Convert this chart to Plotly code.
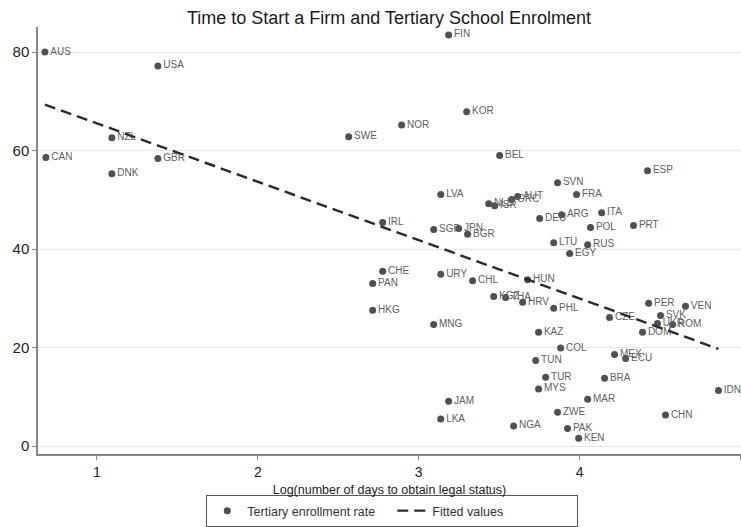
import numpy as np
import plotly.graph_objects as go

# Country codes, log(days to obtain legal status) and tertiary enrolment rate
countries = [
    "AUS", "USA", "NZL", "CAN", "GBR", "DNK", "FIN", "KOR", "NOR", "SWE",
    "BEL", "ESP", "SVN", "FRA", "LVA", "ITA", "ARG", "DEU", "PRT", "POL",
    "IRL", "SGP", "JPN", "BGR", "LTU", "RUS", "EGY", "NLD", "ISR", "AUT",
    "GRC", "CHE", "PAN", "URY", "CHL", "HUN", "HKG", "MNG", "KGZ", "THA",
    "HRV", "PHL", "PER", "VEN", "SVK", "CZE", "UKR", "ROM", "DOM", "KAZ",
    "COL", "TUN", "MEX", "ECU", "TUR", "BRA", "MYS", "IDN", "MAR", "JAM",
    "ZWE", "CHN", "LKA", "NGA", "PAK", "KEN",
]
log_days = [
    0.677, 1.379, 1.093, 0.683, 1.379, 1.093, 3.186, 3.298, 2.894, 2.565,
    3.503, 4.422, 3.863, 3.981, 3.137, 4.137, 3.888, 3.752, 4.335, 4.068,
    2.776, 3.093, 3.248, 3.304, 3.839, 4.050, 3.938, 3.435, 3.472, 3.615,
    3.578, 2.776, 2.714, 3.137, 3.335, 3.677, 2.714, 3.093, 3.466, 3.540,
    3.646, 3.839, 4.429, 4.658, 4.503, 4.186, 4.484, 4.578, 4.391, 3.745,
    3.882, 3.727, 4.217, 4.286, 3.789, 4.155, 3.745, 4.863, 4.050, 3.186,
    3.863, 4.534, 3.137, 3.590, 3.925, 3.994,
]
enrolment = [
    80.0, 77.2, 62.6, 58.6, 58.4, 55.3, 83.5, 67.9, 65.2, 62.8,
    59.0, 55.9, 53.5, 51.1, 51.1, 47.4, 47.0, 46.2, 44.8, 44.4,
    45.4, 44.0, 44.2, 43.0, 41.3, 40.9, 39.1, 49.2, 48.8, 50.7,
    50.1, 35.5, 33.0, 34.9, 33.6, 33.8, 27.6, 24.7, 30.4, 30.2,
    29.2, 28.0, 29.0, 28.4, 26.5, 26.1, 24.9, 24.7, 23.1, 23.1,
    19.9, 17.4, 18.6, 17.8, 14.0, 13.8, 11.6, 11.3, 9.5, 9.1,
    6.9, 6.3, 5.5, 4.1, 3.6, 1.6,
]

y_ticks = [0, 20, 40, 60, 80]
x_ticks = [1, 2, 3, 4, 5]

# Linear fit of enrolment on log days
x = np.array(log_days)
y = np.array(enrolment)
slope, intercept = np.polyfit(x, y, 1)
fit_x = np.array([x.min(), x.max()])
fit_y = intercept + slope * fit_x

FONT = "Liberation Sans, Arial, Helvetica, sans-serif"

fig = go.Figure()
fig.add_trace(go.Scatter(
    x=log_days, y=enrolment, text=countries,
    mode="markers+text", textposition="middle right",
    textfont=dict(family=FONT, size=10, color="#606060"),
    marker=dict(size=7, color="#505050"),
    name="Tertiary enrollment rate",
))
fig.add_trace(go.Scatter(
    x=fit_x, y=fit_y, mode="lines",
    line=dict(color="#2a2a2a", width=2.4, dash="11px,6px"),
    name="Fitted values",
))

fig.update_layout(
    width=741, height=527,
    margin=dict(l=38, r=0, t=27, b=72),
    paper_bgcolor="white", plot_bgcolor="white",
    font=dict(family=FONT, color="#222"),
    title=dict(
        text="Time to Start a Firm and Tertiary School Enrolment",
        x=0.525, xanchor="center", y=0.966, yanchor="middle",
        font=dict(family=FONT, size=18, color="#1a1a1a"),
    ),
    showlegend=True,
    legend=dict(
        orientation="h", x=0.504, xanchor="center", y=-0.097, yanchor="top",
        bordercolor="#555", borderwidth=1, bgcolor="white",
        font=dict(family=FONT, size=12.5, color="#333"),
        itemwidth=30, entrywidth=140, entrywidthmode="pixels",
        tracegroupgap=0,
    ),
)
fig.update_xaxes(
    range=[0.634, 5.003], tickvals=x_ticks,
    showgrid=False, zeroline=False,
    showline=True, linecolor="#888", linewidth=1.5,
    ticks="outside", ticklen=4, tickcolor="#888",
    tickfont=dict(family=FONT, size=14, color="#222"),
    title=dict(text="Log(number of days to obtain legal status)",
               font=dict(family=FONT, size=12.5, color="#222"), standoff=7),
)
fig.update_yaxes(
    range=[-1.6, 85.1], tickvals=y_ticks,
    showgrid=True, gridcolor="#e6e6e6", gridwidth=1.2, zeroline=False,
    showline=True, linecolor="#888", linewidth=1.5,
    ticks="outside", ticklen=4, tickcolor="#888",
    tickfont=dict(family=FONT, size=15, color="#222"),
)

fig.write_html("out.html")
